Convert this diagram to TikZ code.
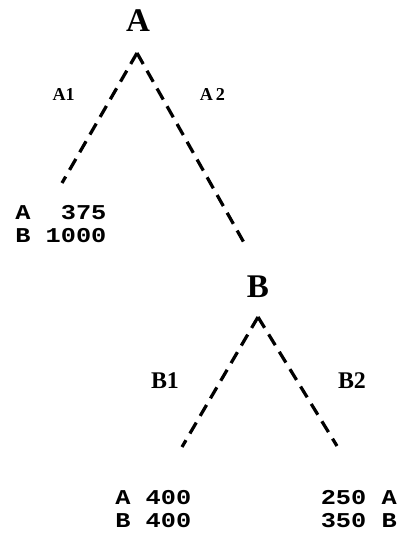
\documentclass[tikz,border=0pt]{standalone}
\usepackage{fontspec}
\setmainfont{Liberation Serif}
\newfontfamily\payofffont[FakeStretch=1.2]{Liberation Mono}
\usetikzlibrary{positioning}

\begin{document}
\begin{tikzpicture}[
    branch/.style={line width=2.3pt,dash pattern=on 9pt off 5.5pt},
    player/.style={font=\fontsize{23.5}{28}\selectfont\bfseries,
        inner sep=0pt,anchor=base},
    move label/.style={font=\fontsize{12.9}{15}\selectfont\bfseries,
        inner sep=0pt,anchor=base},
    large move label/.style={move label,font=\fontsize{17}{20}\selectfont\bfseries},
    payoff/.style={font=\payofffont\bfseries\fontsize{15}{16.5}\selectfont,
        inner sep=0pt}
]
    \useasboundingbox (0,0) rectangle (9.975,13.525);

    % first mover
    \node[player] (player-a) at (3.45,12.725) {A};
    \coordinate (apex-a) at (3.425,12.2);
    \coordinate (end-a1) at (1.55,8.95);
    \coordinate (end-a2) at (6.175,7.325);
    \draw[branch] (apex-a) -- (end-a1);
    \draw[branch] (apex-a) -- (end-a2);
    \node[move label] (move-a1) at (1.59,11.025) {A1};
    \node[move label] (move-a2) at (5.31,11.025) {A\,2};
    \node[payoff,anchor=base west,align=left] (pay-a1) at (0.375,7.45)
        {A\ \ 375\\B 1000};

    % second mover
    \node[player] (player-b) at (6.45,6.075) {B};
    \coordinate (apex-b) at (6.45,5.6);
    \coordinate (end-b1) at (4.55,2.35);
    \coordinate (end-b2) at (8.425,2.375);
    \draw[branch] (apex-b) -- (end-b1);
    \draw[branch] (apex-b) -- (end-b2);
    \node[large move label] (move-b1) at (4.125,3.825) {B1};
    \node[large move label] (move-b2) at (8.8,3.825) {B2};
    \node[payoff,anchor=base west,align=left] (pay-b1) at (2.875,0.325)
        {A 400\\B 400};
    \node[payoff,anchor=base east,align=right] (pay-b2) at (9.925,0.325)
        {250 A\\350 B};

\end{tikzpicture}
\end{document}
